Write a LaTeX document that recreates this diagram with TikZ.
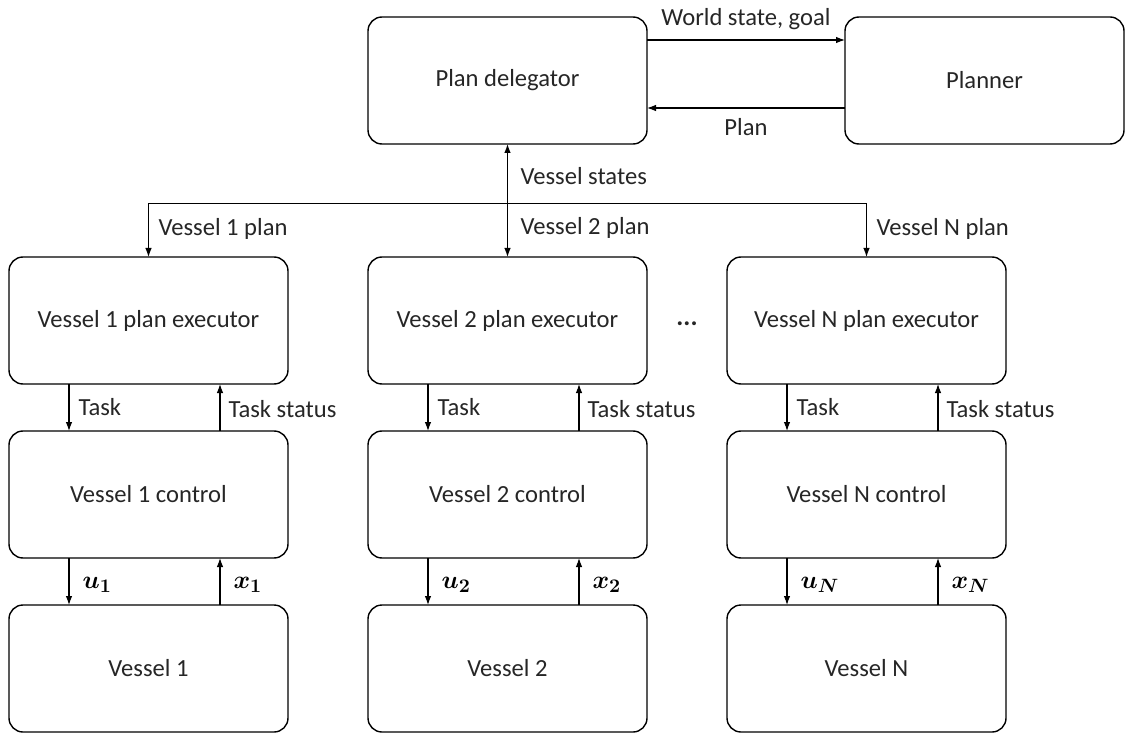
\documentclass[tikz,border=0pt]{standalone}
\usepackage{fontspec}
\setmainfont{Carlito}
\usepackage{amsmath}
\usepackage{tikz}
\usetikzlibrary{arrows.meta, positioning, calc}
\definecolor{textGray}{HTML}{262626}

\begin{document}
\begin{tikzpicture}[
    node distance=0.94cm and 1.6cm,
    box/.style={
        draw, rounded corners=0.28cm, minimum width=5.58cm, minimum height=2.54cm,
        font=\fontsize{14}{17}\selectfont, text=textGray, line width=0.8pt,
        inner sep=0pt, outer sep=0pt
    },
    lbl/.style={font=\fontsize{14}{17}\selectfont, text=textGray, inner sep=0pt},
    sig/.style={font=\fontsize{15}{18}\selectfont, inner sep=0pt},
    arr/.style={-{Latex[length=1.8mm,width=1.3mm]}, line width=0.6pt}
]
    \useasboundingbox (0,0) rectangle (22.5,-14.7);

    \node[box] (dele) at (10.15,-1.61) {Plan delegator};
    \node[box, right=3.96cm of dele] (plnr) {Planner};
    \node[box, below=2.26cm of dele] (e2) {Vessel 2 plan executor};
    \node[box, left=of e2] (e1) {Vessel 1 plan executor};
    \node[box, right=of e2] (eN) {Vessel N plan executor};

    \draw[arr] ([yshift=0.81cm]dele.east) -- ([yshift=0.81cm]plnr.west)
        node[lbl, midway, above=0.2cm] (wsg) {World state, goal};
    \draw[arr] ([yshift=-0.55cm]plnr.west) -- ([yshift=-0.55cm]dele.east)
        node[lbl, midway, below=0.2cm] (pln) {Plan};

    \draw[{Latex[length=1.8mm,width=1.3mm]}-{Latex[length=1.8mm,width=1.3mm]}, line width=0.6pt]
        (dele.south) -- (e2.north)
        node[lbl, pos=0.28, right=0.25cm] (vst) {Vessel states}
        node[lbl, pos=0.74, right=0.25cm] (vp2) {Vessel 2 plan}
        coordinate[pos=0.53] (bus);
    \draw[arr] (bus) -| (e1.north) node[lbl, pos=0.74, right=0.19cm] (vp1) {Vessel 1 plan};
    \draw[arr] (bus) -| (eN.north) node[lbl, pos=0.74, right=0.19cm] (vpN) {Vessel N plan};

    \node[lbl, font=\fontsize{15}{18}\selectfont\bfseries, yshift=-0.07cm] (dots)
        at ($(e2.east)!0.5!(eN.west)$) {...};

    \foreach \v in {1,2,N} {
        \node[box, below=of e\v] (c\v) {Vessel \v\ control};
        \node[box, below=of c\v] (s\v) {Vessel \v};
        \draw[arr] ([xshift=-1.59cm]e\v.south) -- ([xshift=-1.59cm]c\v.north)
            node[lbl, midway, right=0.18cm] (tk\v) {Task};
        \draw[arr] ([xshift=1.43cm]c\v.north) -- ([xshift=1.43cm]e\v.south)
            node[lbl, midway, right=0.16cm, yshift=-0.04cm] (ts\v) {Task status};
        \draw[arr] ([xshift=-1.59cm]c\v.south) -- ([xshift=-1.59cm]s\v.north)
            node[sig, midway, right=0.26cm, yshift=-0.06cm] (u\v) {$\boldsymbol{u_{\v}}$};
        \draw[arr] ([xshift=1.43cm]s\v.north) -- ([xshift=1.43cm]c\v.south)
            node[sig, midway, right=0.26cm, yshift=-0.06cm] (x\v) {$\boldsymbol{x_{\v}}$};
    }
\end{tikzpicture}
\end{document}
